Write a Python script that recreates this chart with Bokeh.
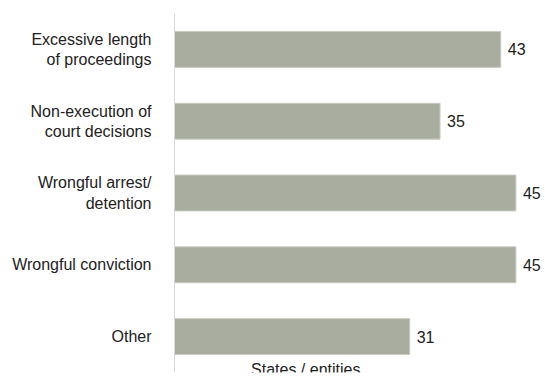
from bokeh.plotting import figure
from bokeh.models import ColumnDataSource, Range1d, FactorRange, Label
from bokeh.core.properties import value
from bokeh.embed import file_html
from bokeh.resources import INLINE

categories = [
    "Excessive length\nof proceedings",
    "Non-execution of\ncourt decisions",
    "Wrongful arrest/\ndetention",
    "Wrongful conviction",
    "Other",
]
counts = [43, 35, 45, 45, 31]
x_axis_title = "States / entities"

FONT = "Liberation Sans"
cats_rev = categories[::-1]

src = ColumnDataSource(dict(cat=categories, val=counts, lab=[str(v) for v in counts]))

p = figure(
    width=545, height=376,
    y_range=FactorRange(factors=cats_rev, range_padding=0),
    x_range=Range1d(0, 48.9),
    output_backend="svg", toolbar_location=None,
    min_border_left=174, min_border_right=0, min_border_top=13, min_border_bottom=4,
)
p.outline_line_color = None
p.background_fill_color = "white"
p.border_fill_color = "white"

p.hbar(y="cat", right="val", left=0, height=0.5, source=src,
       fill_color="#a8ad9f", line_color="#c9ccc2", line_width=1)

p.text(x="val", y="cat", text="lab", source=src, x_offset=7,
       text_baseline="middle", text_align="left",
       text_font=value(FONT), text_font_size="16px", text_color="#222222")

p.xaxis.visible = False
p.xgrid.visible = False
p.ygrid.visible = False

ya = p.yaxis[0]
ya.axis_line_color = "#d9d9d9"
ya.axis_line_width = 1
ya.major_tick_line_color = None
ya.minor_tick_line_color = None
ya.major_label_standoff = 17
ya.major_label_text_font = FONT
ya.major_label_text_font_size = "16px"
ya.major_label_text_color = "#222222"

p.add_layout(Label(x=17.3, y=0, y_offset=3, text=x_axis_title, text_align="center",
                   text_baseline="alphabetic", text_font=FONT,
                   text_font_size="16px", text_color="#222222"))

open("out.html", "w").write(file_html(p, INLINE))
